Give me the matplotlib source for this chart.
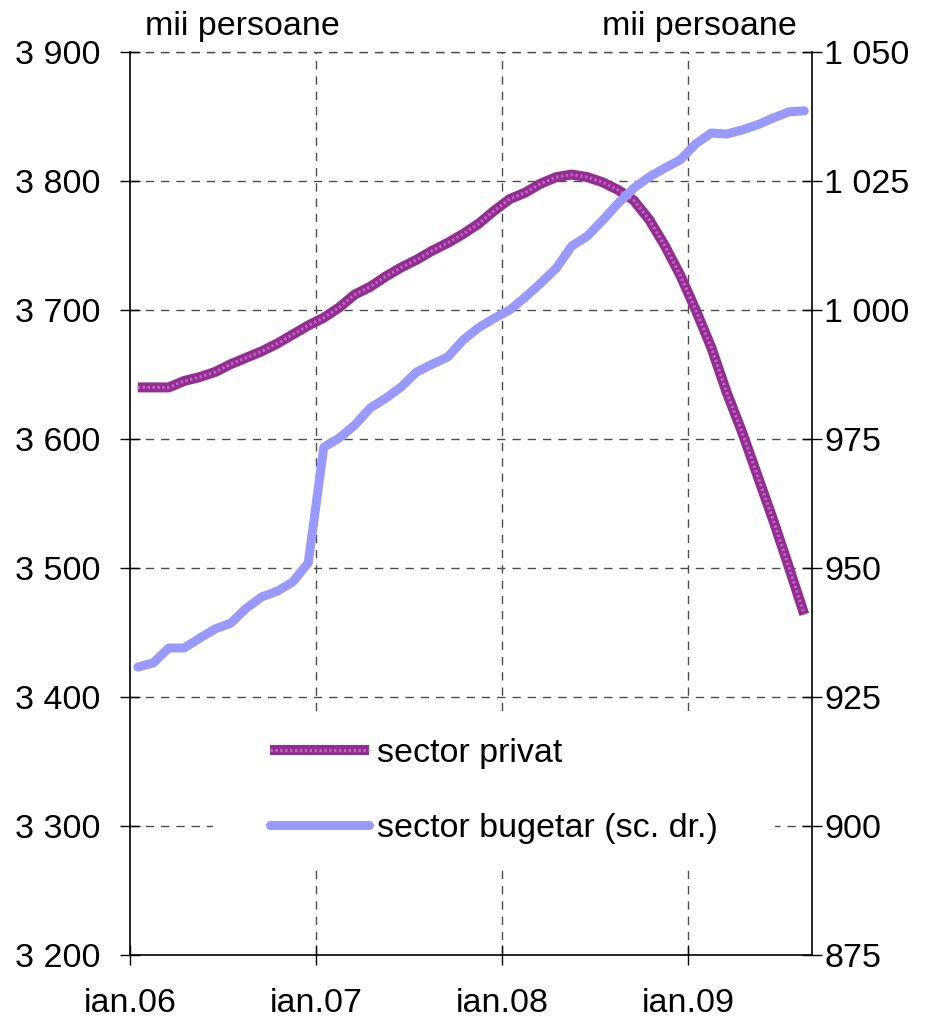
import numpy as np
import pandas as pd
import matplotlib
matplotlib.use("Agg")
import matplotlib.pyplot as plt
from matplotlib.ticker import FuncFormatter, FixedLocator
from matplotlib.patches import Rectangle
from matplotlib.legend_handler import HandlerTuple

plt.rcParams['font.family'] = ['Liberation Sans', 'DejaVu Sans']

# ---- data ----
months = pd.date_range('2006-01-01', periods=44, freq='MS')
tick_labels = ['ian.06', 'ian.07', 'ian.08', 'ian.09']
privat = [3640, 3640, 3640, 3645, 3648, 3652, 3658, 3663, 3668, 3674, 3681, 3688,
          3694, 3702, 3712, 3718, 3726, 3733, 3739, 3746, 3752, 3759, 3767, 3777,
          3786, 3791, 3798, 3803, 3805, 3803, 3799, 3793, 3785, 3770, 3750, 3727,
          3700, 3671, 3636, 3605, 3571, 3537, 3501, 3464]
bugetar = [930.8, 931.6, 934.5, 934.5, 936.4, 938.2, 939.3, 942.2, 944.4, 945.5, 947.3, 951.0,
           973.4, 975.2, 977.7, 981.0, 982.9, 985.1, 988.0, 989.5, 990.9, 994.2, 996.6, 998.4,
           1000.0, 1002.5, 1005.2, 1008.1, 1012.4, 1014.3, 1017.4, 1020.7, 1023.6, 1025.8, 1027.5, 1029.1,
           1032.2, 1034.3, 1034.1, 1034.9, 1035.9, 1037.2, 1038.4, 1038.6]
left_ticks = [3200, 3300, 3400, 3500, 3600, 3700, 3800, 3900]
right_ticks = [875, 900, 925, 950, 975, 1000, 1025, 1050]
label_privat = 'sector privat'
label_bugetar = 'sector bugetar (sc. dr.)'
unit = 'mii persoane'

FS = 24.5
W, H = 936, 1021
fig = plt.figure(figsize=(W / 100, H / 100), dpi=100)
ax = fig.add_axes([130 / W, 1 - 955 / H, (812 - 130) / W, (955 - 52) / H])
ax2 = ax.twinx()

n = len(months)
x = np.arange(n) + 0.5
year_starts = [i for i, m in enumerate(months) if m.month == 1]

def thousands(v, pos=None):
    return f"{int(round(v)):,}".replace(",", " ")

# grid
grid_kw = dict(color='#4d4d4d', linewidth=1.0, dashes=(6, 5))
ax.set_axisbelow(True)
for yv in left_ticks[1:]:
    ax.axhline(yv, zorder=0.5, **grid_kw)
for xv in year_starts[1:]:
    ax.axvline(xv, zorder=0.5, **grid_kw)

# white background behind the legend
ax.add_patch(Rectangle(((213 - 130) / 682, (955 - 865) / 903), (775 - 213) / 682, (865 - 715) / 903,
                       transform=ax.transAxes, facecolor='white', edgecolor='none', zorder=1.5))

lp, = ax.plot(x, privat, color='#932D93', linewidth=7.2,
              solid_capstyle='butt', solid_joinstyle='round', zorder=2, label=label_privat)
lp2, = ax.plot(x, privat, color='#BE66BE', linewidth=2.2, dashes=(0.8, 0.8),
               dash_capstyle='butt', zorder=2.1)
lb, = ax2.plot(x, bugetar, color='#9999FF', linewidth=6.5, solid_capstyle='round',
               solid_joinstyle='round', label=label_bugetar)

ax.set_xlim(0, n)
ax.set_ylim(left_ticks[0], left_ticks[-1])
ax2.set_ylim(right_ticks[0], right_ticks[-1])

ax.xaxis.set_major_locator(FixedLocator(year_starts))
ax.set_xticklabels(tick_labels)
ax.set_yticks(left_ticks)
ax.yaxis.set_major_formatter(FuncFormatter(thousands))
ax2.set_yticks(right_ticks)
ax2.yaxis.set_major_formatter(FuncFormatter(thousands))

ax.tick_params(axis='y', direction='inout', length=14, width=1, pad=14.5, labelsize=FS)
ax.tick_params(axis='x', direction='inout', length=14, width=1, pad=17, labelsize=FS)
ax2.tick_params(axis='y', direction='inout', length=14, width=1, pad=2, labelsize=FS)

for a in (ax, ax2):
    a.spines['top'].set_visible(False)
    for s in ('left', 'right', 'bottom'):
        a.spines[s].set_linewidth(1.2)
ax.spines['right'].set_visible(False)
ax2.spines['left'].set_visible(False)
ax2.spines['bottom'].set_visible(False)
ax.axhline(left_ticks[-1], zorder=0.5, clip_on=False, **grid_kw)

fig.text(145 / W, 1 - 27 / H, unit, fontsize=FS, ha='left', va='center')
fig.text(797 / W, 1 - 27 / H, unit, fontsize=FS, ha='right', va='center')

leg = fig.legend(handles=[(lp, lp2), lb], labels=[label_privat, label_bugetar],
                 handler_map={tuple: HandlerTuple(ndivide=1)},
                 loc='center left',
                 bbox_to_anchor=(270 / W, 1 - 791 / H), frameon=False,
                 fontsize=FS, handlelength=2.9, handletextpad=0.25,
                 labelspacing=1.3, borderpad=0, borderaxespad=0)

fig.savefig('out.png', dpi=100)
